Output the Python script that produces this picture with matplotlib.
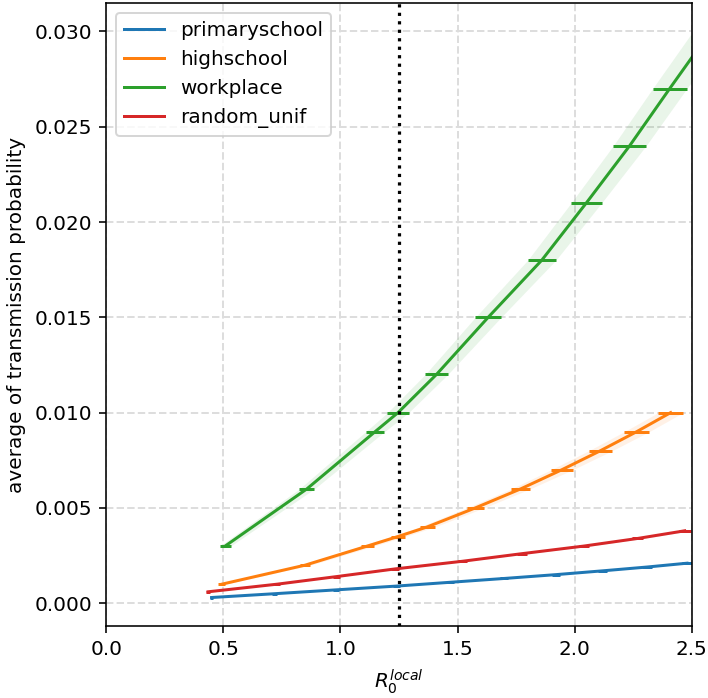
import matplotlib
matplotlib.use("Agg")
import matplotlib.pyplot as plt
import numpy as np

# transmission probability (y) vs measured R0 (x), with spread on R0
names = ["primaryschool", "highschool", "workplace", "random_unif"]
colors = ["#1f77b4", "#ff7f0e", "#2ca02c", "#d62728"]

prim_p = [0.0003, 0.0005, 0.0007, 0.0009, 0.0011, 0.0013, 0.0015, 0.0017, 0.0019, 0.0021]
prim_r = [0.45, 0.72, 0.98, 1.24, 1.47, 1.70, 1.92, 2.12, 2.31, 2.48]
prim_e = [0.008, 0.010, 0.012, 0.014, 0.015, 0.017, 0.018, 0.020, 0.021, 0.022]

high_p = [0.001, 0.002, 0.003, 0.0035, 0.004, 0.005, 0.006, 0.007, 0.008, 0.009, 0.010]
high_r = [0.494, 0.85, 1.115, 1.246, 1.37, 1.576, 1.77, 1.945, 2.11, 2.265, 2.41]
high_e = [0.015, 0.022, 0.028, 0.030, 0.032, 0.037, 0.040, 0.046, 0.050, 0.053, 0.053]

work_p = [0.003, 0.006, 0.009, 0.010, 0.012, 0.015, 0.018, 0.021, 0.024, 0.027, 0.030]
work_r = [0.508, 0.857, 1.148, 1.246, 1.41, 1.631, 1.86, 2.05, 2.235, 2.406, 2.58]
work_e = [0.023, 0.032, 0.040, 0.045, 0.048, 0.055, 0.060, 0.065, 0.070, 0.073, 0.075]

rand_p = [0.0006, 0.0010, 0.0014, 0.0018, 0.0022, 0.0026, 0.0030, 0.0034, 0.0038]
rand_r = [0.435, 0.73, 0.985, 1.233, 1.52, 1.775, 2.04, 2.27, 2.47]
rand_e = [0.010, 0.013, 0.015, 0.017, 0.019, 0.021, 0.023, 0.024, 0.025]

r0_ref = 1.25

series = [(prim_r, prim_p, prim_e), (high_r, high_p, high_e),
          (work_r, work_p, work_e), (rand_r, rand_p, rand_e)]

fig = plt.figure(figsize=(708 / 144, 698 / 144), dpi=144)
ax = fig.add_axes([0.15, 0.103, 0.827, 0.893])

for (r, p, e), name, c in zip(series, names, colors):
    r = np.array(r)
    p = np.array(p)
    e = np.array(e)
    ax.fill_betweenx(p, r - e, r + e, color=c, alpha=0.1, lw=0)
    ax.plot(r, p, color=c, lw=1.5, label=name)
    ax.errorbar(r, p, xerr=e, fmt="none", ecolor=c, elinewidth=1.5)

ax.axvline(r0_ref, color="black", ls=":", lw=1.6)

ax.set_xlim(0, 2.5)
ax.set_ylim(-0.0012, 0.0315)
ax.set_yticks(np.arange(0, 0.0301, 0.005))
ax.yaxis.set_major_formatter(plt.FormatStrFormatter("%.3f"))
ax.grid(True, ls="--", color="#dddddd", lw=1)
ax.set_axisbelow(True)
ax.set_xlabel(r"$R_0^{local}$")
ax.set_ylabel("average of transmission probability")
ax.legend(loc="upper left")

fig.savefig("out.png", dpi=144)
